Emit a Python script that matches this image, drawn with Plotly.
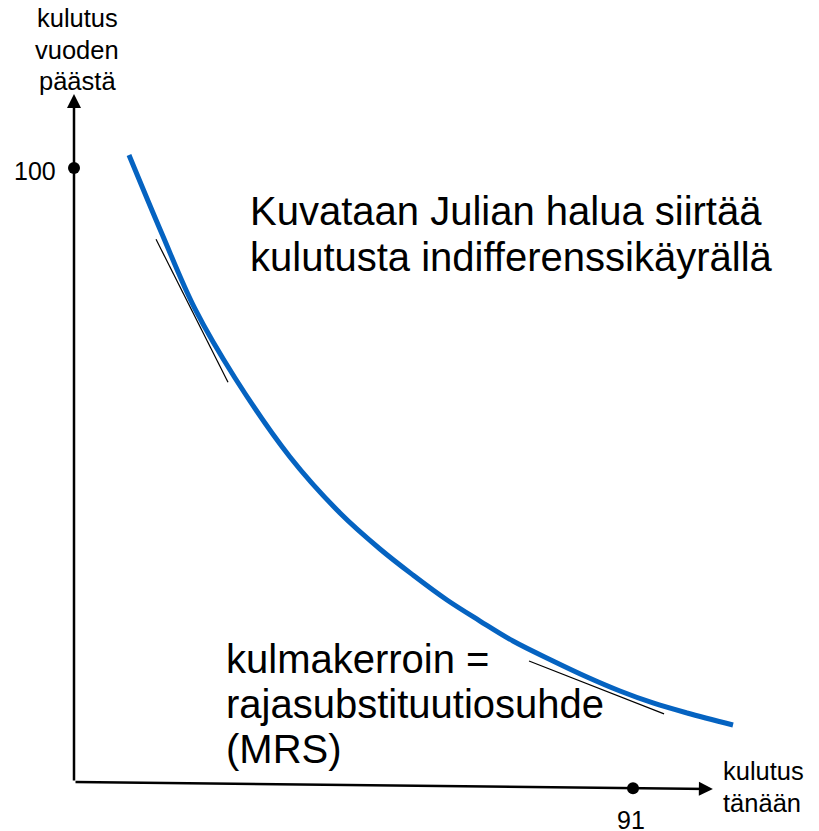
import plotly.graph_objects as go

# Indifference curve (consumption today vs. consumption in a year)
curve_x = [8.95, 14.33, 19.70, 26.21, 35.16, 43.30, 49.81, 55.18, 60.72,
           66.09, 71.46, 77.97, 83.51, 88.88, 94.25, 99.79, 107.28]
curve_y = [102.12, 89.25, 77.04, 65.80, 52.93, 43.81, 37.95, 33.71, 29.64,
           26.22, 22.96, 19.71, 17.10, 14.82, 12.87, 11.24, 9.28]

# Tangent lines (slope = MRS)
tangent1_x = [13.35, 25.07]
tangent1_y = [88.4, 65.1]
tangent2_x = [74.07, 96.05]
tangent2_y = [19.7, 11.1]

# Axis ends and marked values
x_axis_end = (104.0, -1.14)
y_axis_end = (0.0, 112.05)
y_mark = (0.0, 100.0)
x_mark = (91.0, -1.0)
y_tick_label = "100"
x_tick_label = "91"

FONT = "Liberation Sans, Arial, sans-serif"

fig = go.Figure()

fig.add_trace(go.Scatter(x=tangent1_x, y=tangent1_y, mode="lines",
                         line=dict(color="black", width=1.2), hoverinfo="skip"))
fig.add_trace(go.Scatter(x=tangent2_x, y=tangent2_y, mode="lines",
                         line=dict(color="black", width=1.2), hoverinfo="skip"))
fig.add_trace(go.Scatter(x=curve_x, y=curve_y, mode="lines",
                         line=dict(color="#0563C1", width=5, shape="spline", smoothing=1.0),
                         hoverinfo="skip"))
fig.add_trace(go.Scatter(x=[y_mark[0], x_mark[0]], y=[y_mark[1], x_mark[1]], mode="markers",
                         marker=dict(color="black", size=12), hoverinfo="skip"))

annotations = []
# axes as arrows
for end in (x_axis_end, y_axis_end):
    annotations.append(dict(x=end[0], y=end[1], ax=0, ay=0, xref="x", yref="y",
                            axref="x", ayref="y", text="", showarrow=True,
                            arrowhead=2, arrowsize=1.12, arrowwidth=2.5,
                            arrowcolor="black", standoff=0))

def txt(x, y, s, size, xanchor="left"):
    return dict(x=x, y=y, xref="x", yref="y", text=s, showarrow=False,
                xanchor=xanchor, yanchor="middle",
                font=dict(family=FONT, size=size, color="black"))

# page-pixel helpers (used only for text placement and axis ranges)
px_x = lambda p: (p - 74) / 6.143
px_y = lambda p: (782 - p) / 6.14
OFF = 8  # page body margin

# y-axis label
annotations.append(txt(px_x(77), px_y(18), "kulutus", 25.5, "center"))
annotations.append(txt(px_x(77), px_y(50), "vuoden", 25.5, "center"))
annotations.append(txt(px_x(77), px_y(81), "päästä", 25.5, "center"))
# x-axis label
annotations.append(txt(px_x(721), px_y(771), "kulutus", 25.5))
annotations.append(txt(px_x(721), px_y(803), "tänään", 25.5))
# tick labels
annotations.append(txt(px_x(58), px_y(171), y_tick_label, 25, "right"))
annotations.append(txt(px_x(631), px_y(820), x_tick_label, 25, "center"))
# main texts
annotations.append(txt(px_x(248), px_y(211), "Kuvataan Julian halua siirtää", 40))
annotations.append(txt(px_x(248), px_y(257), "kulutusta indifferenssikäyrällä", 40))
annotations.append(txt(px_x(224), px_y(659), "kulmakerroin =", 40))
annotations.append(txt(px_x(224), px_y(704), "rajasubstituutiosuhde", 40))
annotations.append(txt(px_x(224), px_y(749), "(MRS)", 40))

fig.update_layout(
    width=819, height=831,
    margin=dict(l=0, r=0, t=0, b=0),
    paper_bgcolor="white", plot_bgcolor="white",
    showlegend=False,
    xaxis=dict(range=[px_x(OFF), px_x(OFF + 819)], visible=False, fixedrange=True),
    yaxis=dict(range=[px_y(OFF + 831), px_y(OFF)], visible=False, fixedrange=True),
    annotations=annotations,
)

fig.write_html("out.html")
